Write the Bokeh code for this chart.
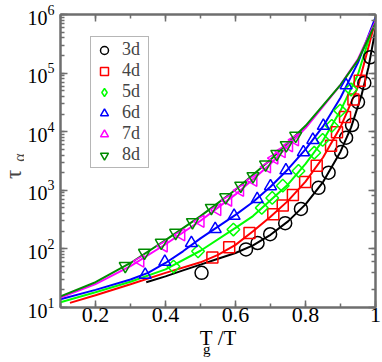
import math
from bokeh.plotting import figure
from bokeh.layouts import row
from bokeh.models import (Range1d, FixedTicker, LinearAxis, LogAxis, Legend, LegendItem,
                          Label, CustomJSTickFormatter, LogTicker)
from bokeh.embed import file_html
from bokeh.resources import INLINE

FONT = "Liberation Serif"

# ---- data (Tg/T, tau_alpha) ----
labels = ["3d", "4d", "5d", "6d", "7d", "8d"]
colors = ["#000000", "#ff0000", "#00ff00", "#0000ff", "#ff00ff", "#008b00"]

# simulation points
x3 = [0.503, 0.630, 0.663, 0.699, 0.742, 0.787, 0.837, 0.866, 0.902, 0.916, 0.933, 0.950, 0.968, 0.985]
y3 = [39, 98, 126, 178, 275, 480, 1100, 2000, 4500, 7900, 13000, 32000, 68000, 186000]
x4 = [0.534, 0.582, 0.640, 0.708, 0.735, 0.764, 0.799, 0.832, 0.873, 0.890, 0.913, 0.937, 0.955]
y4 = [71, 107, 186, 390, 550, 830, 1380, 2630, 5750, 9800, 17800, 35500, 74000]
x5 = [0.423, 0.493, 0.594, 0.675, 0.705, 0.735, 0.780, 0.825, 0.849, 0.875, 0.899, 0.930]
y5 = [50, 91, 214, 501, 741, 1200, 2140, 4370, 7240, 12600, 22900, 52500]
x6 = [0.342, 0.398, 0.474, 0.542, 0.596, 0.662, 0.700, 0.744, 0.794, 0.821, 0.851, 0.916]
y6 = [36, 60, 126, 219, 367, 708, 1175, 2190, 4470, 7240, 12600, 61700]
x7 = [0.328, 0.395, 0.445, 0.500, 0.548, 0.579, 0.613, 0.651, 0.690, 0.711, 0.732, 0.753, 0.770]
y7 = [62, 112, 174, 295, 468, 676, 1000, 1480, 2510, 3550, 4570, 5750, 7240]
x8 = [0.285, 0.340, 0.388, 0.429, 0.477, 0.531, 0.572, 0.615, 0.650, 0.686, 0.718, 0.745, 0.772]
y8 = [51, 86, 127, 188, 286, 500, 760, 1200, 1740, 2750, 4170, 5890, 8510]

# fit curves
fx3 = [0.345, 0.40, 0.45, 0.50, 0.55, 0.60, 0.65, 0.70, 0.75, 0.80, 0.85, 0.90, 0.93, 0.96, 0.98, 1.0]
fy3 = [27, 34, 43, 54, 68, 85, 115, 174, 295, 575, 1380, 4570, 11750, 41700, 126000, 562000]
fx4 = [0.127, 0.2, 0.3, 0.4, 0.5, 0.55, 0.6, 0.65, 0.7, 0.75, 0.8, 0.85, 0.9, 0.95, 1.0]
fy4 = [12, 16.2, 25, 39, 59, 79, 117, 200, 355, 660, 1410, 3630, 12000, 58900, 794000]
fx5 = [0.1, 0.2, 0.3, 0.4, 0.5, 0.6, 0.65, 0.7, 0.75, 0.8, 0.85, 0.9, 0.95, 1.0]
fy5 = [12.3, 18.2, 27.5, 44.7, 93, 229, 363, 676, 1260, 2820, 7080, 22900, 95500, 891000]
fx6 = [0.1, 0.2, 0.3, 0.35, 0.4, 0.45, 0.5, 0.55, 0.6, 0.65, 0.7, 0.75, 0.8, 0.85, 0.9, 0.95, 1.0]
fy6 = [13.8, 20, 30, 39, 57.5, 91, 151, 240, 380, 631, 1150, 2290, 5010, 12300, 38000, 151000, 891000]
fx7 = [0.1, 0.2, 0.3, 0.4, 0.5, 0.6, 0.7, 0.8, 0.9, 0.95, 1.0]
fy7 = [14.8, 25, 51, 120, 302, 851, 2820, 11500, 63100, 174000, 759000]
fx8 = [0.1, 0.2, 0.3, 0.4, 0.5, 0.6, 0.7, 0.8, 0.9, 0.95, 1.0]
fy8 = [15.5, 27, 57.5, 141, 363, 1020, 3310, 12600, 63100, 166000, 708000]

x_major = [0.2, 0.4, 0.6, 0.8, 1.0]
x_minor = [0.1, 0.2, 0.3, 0.4, 0.5, 0.6, 0.7, 0.8, 0.9, 1.0]
x_tick_labels = ["0.2", "0.4", "0.6", "0.8", "1"]

AX = "#6e6e6e"
NB = "\u00a0"
BOTTOM = 52

p = figure(frame_width=315, frame_height=293,
           x_range=Range1d(0.1, 1.0), y_range=Range1d(10, 1e6), y_axis_type="log",
           output_backend="svg", toolbar_location=None,
           min_border_left=35, min_border_top=14, min_border_right=6, min_border_bottom=BOTTOM)
p.xgrid.visible = False
p.ygrid.visible = False
p.outline_line_color = AX
p.outline_line_width = 2


def style_axis(ax, font_size="22px"):
    ax.axis_line_color = AX
    ax.axis_line_width = 2
    ax.major_tick_line_color = AX
    ax.minor_tick_line_color = AX
    ax.major_tick_line_width = 1.5
    ax.minor_tick_line_width = 1.5
    ax.major_tick_in = 7
    ax.major_tick_out = 0
    ax.minor_tick_in = 4
    ax.minor_tick_out = 0
    ax.major_label_text_font = FONT
    ax.major_label_text_font_size = font_size
    ax.major_label_text_color = "black"


xa = p.xaxis[0]
xa.ticker = FixedTicker(ticks=x_major, minor_ticks=x_minor)
xa.major_label_overrides = {float(t): s for t, s in zip(x_major, x_tick_labels)}
style_axis(xa)
xa.major_label_standoff = 0
# x title "T_g/T": main part on this axis, the subscript on a bare axis just below
xa.axis_label = "T" + NB + "/T"
xa.axis_label_text_font = FONT
xa.axis_label_text_font_size = "21px"
xa.axis_label_text_font_style = "normal"
xa.axis_label_text_color = "black"
xa.axis_label_standoff = 1

xg = LinearAxis(ticker=FixedTicker(ticks=[]), axis_line_color=None,
                major_tick_in=0, major_tick_out=0, minor_tick_in=0, minor_tick_out=0,
                major_label_standoff=0, axis_label="g" + NB * 6,
                axis_label_text_font=FONT, axis_label_text_font_size="15px",
                axis_label_text_font_style="normal", axis_label_text_color="black",
                axis_label_standoff=-12)
p.add_layout(xg, "below")

ya = p.yaxis[0]
style_axis(ya, "20px")
ya.major_label_standoff = 6

top = LinearAxis(ticker=FixedTicker(ticks=x_major, minor_ticks=x_minor),
                 formatter=CustomJSTickFormatter(code="return ''"))
style_axis(top)
top.major_label_standoff = 0
p.add_layout(top, "above")
right = LogAxis(ticker=LogTicker(), formatter=CustomJSTickFormatter(code="return ''"))
style_axis(right)
right.major_label_standoff = 0
p.add_layout(right, "right")

fits = [(fx3, fy3), (fx4, fy4), (fx5, fy5), (fx6, fy6), (fx7, fy7), (fx8, fy8)]
pts = [(x3, y3), (x4, y4), (x5, y5), (x6, y6), (x7, y7), (x8, y8)]
markers = ["circle", "square", "square", "triangle", "triangle", "inverted_triangle"]
legend_markers = ["circle", "square", "diamond", "triangle", "triangle", "inverted_triangle"]
sizes = [13, 11, 9, 12, 12, 12]
angles = [0, 0, math.pi / 4, 0, math.pi / 2, 0]

for (fx, fy), c in zip(fits, colors):
    p.line(fx, fy, line_color=c, line_width=2)

items = []
for (mx, my), c, m, lm, s, a, lab in zip(pts, colors, markers, legend_markers, sizes, angles, labels):
    r = p.scatter(mx, my, marker=m, size=s, angle=a, line_color=c, fill_color=None, line_width=1.5)
    if lm != m:
        # legend glyphs are drawn unrotated: a hidden twin supplies the legend symbol
        r = p.scatter(mx, my, marker=lm, size=s, line_color=c, fill_color=None,
                      line_width=1.5, visible=False)
    items.append(LegendItem(label=lab, renderers=[r]))

legend = Legend(items=items, location=(30, 139), label_text_font=FONT,
                label_text_font_size="18px", glyph_width=22, glyph_height=20,
                label_height=20, label_width=24, label_standoff=7, padding=2, spacing=0,
                margin=0, border_line_color=AX, border_line_width=1.5, background_fill_alpha=1,
                click_policy="none", inactive_fill_alpha=0)
p.add_layout(legend, "center")

# ---- y title "tau_alpha" in a narrow side figure whose frame matches the plot frame ----
ylab = figure(width=24, height=14 + 293 + BOTTOM, x_range=Range1d(0, 1), y_range=Range1d(0, 1),
              output_backend="svg", toolbar_location=None,
              x_axis_location=None, y_axis_location=None,
              min_border_left=0, min_border_right=0, min_border_top=14, min_border_bottom=BOTTOM)
ylab.xgrid.visible = False
ylab.ygrid.visible = False
ylab.outline_line_color = None
ylab.add_layout(Label(x=13, y=133, x_units="screen", y_units="screen", text="τ",
                      angle=math.pi / 2, text_font=FONT, text_font_size="23px",
                      text_align="center", text_baseline="alphabetic"))
ylab.add_layout(Label(x=19, y=150, x_units="screen", y_units="screen", text="α",
                      angle=math.pi / 2, text_font=FONT, text_font_size="16px",
                      text_align="center", text_baseline="alphabetic"))

layout = row(ylab, p, spacing=0)

open("out.html", "w").write(file_html(layout, INLINE))
